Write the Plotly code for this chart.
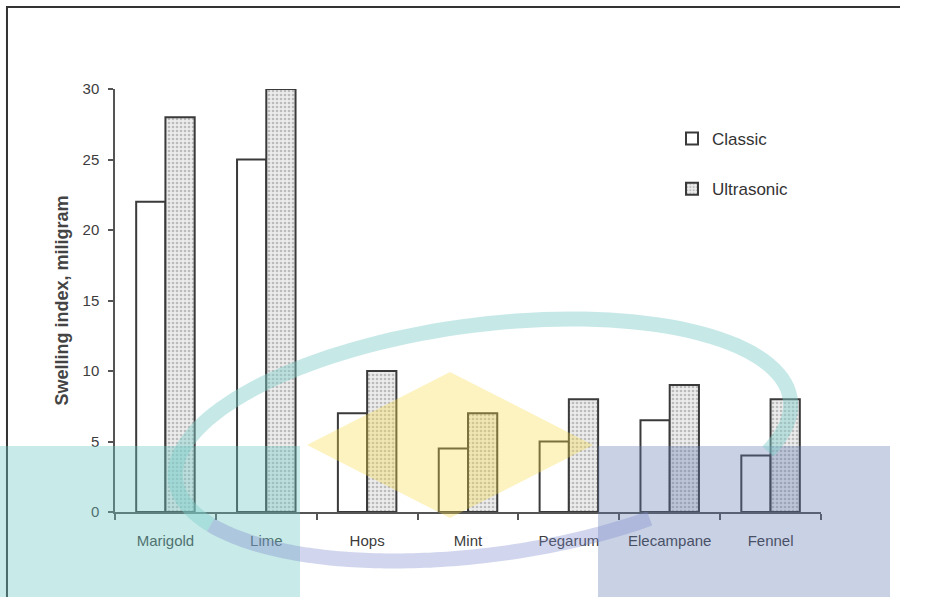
import numpy as np
import plotly.graph_objects as go

# ---- data -------------------------------------------------------------
plants = ["Marigold", "Lime", "Hops", "Mint", "Pegarum", "Elecampane", "Fennel"]
classic = [22, 25, 7, 4.5, 5, 6.5, 4]
ultrasonic = [28, 30, 10, 7, 8, 9, 8]
y_ticks = [0, 5, 10, 15, 20, 25, 30]

# ---- canvas / plot-area geometry (pixels) -----------------------------
W, H = 931, 597
L, R, T, B = 115, 110, 89, 85
PW, PH = W - L - R, H - T - B


def px(x):
    return (x - L) / PW


def py(y):
    return (H - B - y) / PH


fig = go.Figure()

fig.add_trace(go.Bar(
    name="Classic", x=plants, y=classic,
    marker=dict(color="#ffffff", line=dict(color="#3a3a3a", width=2)),
    legendgroup="c",
))
fig.add_trace(go.Bar(
    name="Ultrasonic", x=plants, y=ultrasonic,
    marker=dict(color="#e2e2e2", line=dict(color="#3a3a3a", width=2),
                pattern=dict(shape=".", fgcolor="#8a8a8a", bgcolor="#ececec",
                             size=4, solidity=0.35)),
    legendgroup="u",
))

shapes = []

# outer frame of the figure (left and top edges as one open path)
frame = f"M {px(7):.4f},{py(H):.4f} L {px(7):.4f},{py(7):.4f} L {px(900):.4f},{py(7):.4f}"
shapes.append(dict(type="path", xref="paper", yref="paper", path=frame,
                   line=dict(color="#333333", width=2)))

# translucent overlay: two coloured bands at the bottom
shapes.append(dict(type="rect", xref="paper", yref="paper", layer="above",
                   x0=px(0), x1=px(300), y0=py(446), y1=py(H),
                   fillcolor="rgb(110,200,195)", opacity=0.38, line=dict(width=0)))
shapes.append(dict(type="rect", xref="paper", yref="paper", layer="above",
                   x0=px(598), x1=px(890), y0=py(446), y1=py(H),
                   fillcolor="rgb(98,121,178)", opacity=0.34, line=dict(width=0)))

# yellow diamond
cx, cy = 450, 445
dpts = [(cx, cy - 73), (cx + 143, cy), (cx, cy + 73), (cx - 143, cy)]
dpath = "M " + " L ".join(f"{px(a):.4f},{py(b):.4f}" for a, b in dpts) + " Z"
shapes.append(dict(type="path", xref="paper", yref="paper", layer="above",
                   path=dpath, fillcolor="rgb(245,220,70)", opacity=0.34,
                   line=dict(width=0)))


# tilted elliptical ring, drawn as two arcs
def arc(t0, t1, n=90):
    ex, ey, a, b, ang = 483, 440, 310, 115, np.deg2rad(-7.5)
    t = np.linspace(t0, t1, n)
    xs = a * np.cos(t)
    ys = b * np.sin(t)
    X = ex + xs * np.cos(ang) - ys * np.sin(ang)
    Y = ey + xs * np.sin(ang) + ys * np.cos(ang)
    return "M " + " L ".join(f"{px(u):.4f},{py(v):.4f}" for u, v in zip(X, Y))


# screen y points down, so negative angles run along the top
shapes.append(dict(type="path", xref="paper", yref="paper", layer="above",
                   path=arc(np.deg2rad(-205), np.deg2rad(25)),
                   line=dict(color="rgb(130,208,204)", width=15), opacity=0.45))
shapes.append(dict(type="path", xref="paper", yref="paper", layer="above",
                   path=arc(np.deg2rad(60), np.deg2rad(155)),
                   line=dict(color="rgb(125,138,205)", width=15), opacity=0.35))

fig.update_layout(
    width=W, height=H,
    margin=dict(l=L, r=R, t=T, b=B, autoexpand=False),
    paper_bgcolor="white", plot_bgcolor="white",
    barmode="group", bargap=0.42, bargroupgap=0,
    font=dict(family="Liberation Sans, Arial, sans-serif", color="#3c3c3c", size=15),
    showlegend=True,
    legend=dict(x=px(672), y=py(121), xanchor="left", yanchor="top",
                bgcolor="rgba(0,0,0,0)", font=dict(size=17, color="#333333"),
                tracegroupgap=25, itemwidth=30),
    shapes=shapes,
)

fig.update_xaxes(
    type="category", showline=True, linecolor="#555555", linewidth=1.5,
    ticks="outside", tickson="boundaries", ticklen=6, tickcolor="#555555",
    tickwidth=1.5, showgrid=False, ticklabelstandoff=14,
    tickfont=dict(size=15, color="#3c3c3c"),
)
fig.update_yaxes(
    range=[0, 30], tickvals=y_ticks, showline=True, linecolor="#555555",
    linewidth=1.5, ticks="outside", ticklen=5, tickcolor="#555555",
    tickwidth=1.5, showgrid=False, zeroline=False, ticklabelstandoff=6,
    tickfont=dict(size=15, color="#3c3c3c"),
    title=dict(text="<b>Swelling index, miligram</b>", standoff=9,
               font=dict(size=18, color="#444444")),
)

fig.write_html("out.html")
